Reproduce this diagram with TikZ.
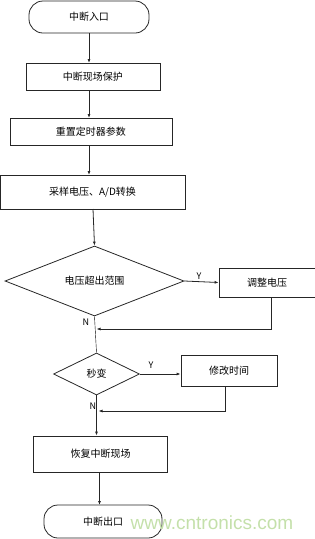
\documentclass[tikz,border=0pt]{standalone}
\usepackage{fontspec}
\setmainfont{Noto Sans CJK SC}
\newfontfamily\wmfont{Liberation Sans}
\usetikzlibrary{shapes.geometric,arrows.meta}
\definecolor{wmgreen}{RGB}{196,224,170}
\begin{document}
\begin{tikzpicture}[x=1pt,y=-1pt,
  every node/.style={font=\fontsize{10pt}{12pt}\selectfont},
  proc/.style={draw=black!85,line width=0.8pt,rectangle,inner sep=0pt},
  term/.style={draw=black!85,line width=0.8pt,rectangle,rounded corners=14pt,inner sep=0pt},
  dec/.style={draw=black!85,line width=0.8pt,diamond,inner sep=0pt},
  conn/.style={draw=black!85,line width=0.8pt,-{Latex[length=4pt,width=3pt]}},
  lbl/.style={font=\fontsize{9pt}{10pt}\selectfont}]
\useasboundingbox (0,0) rectangle (315,539);
\node[term,minimum width=120pt,minimum height=32pt] (start) at (89,17) {中断入口};
\node[proc,minimum width=134pt,minimum height=27pt] (b1) at (93,76.5) {中断现场保护};
\node[proc,minimum width=162pt,minimum height=27pt] (b2) at (91,131.5) {重置定时器参数};
\node[proc,minimum width=185pt,minimum height=34pt] (b3) at (92.5,192) {采样电压、A/D转换};
\node[dec,minimum width=179pt,minimum height=70pt,aspect=2.55] (d1) at (94.5,281) {电压超出范围};
\node[proc,minimum width=96pt,minimum height=29pt] (adj) at (267,282.5) {调整电压};
\node[dec,minimum width=86pt,minimum height=42pt,aspect=2.05] (d2) at (96.5,374) {秒变};
\node[proc,minimum width=96pt,minimum height=31pt] (mod) at (229,370.5) {修改时间};
\node[proc,minimum width=134pt,minimum height=36pt] (rest) at (100.5,454) {恢复中断现场};
\node[term,minimum width=118pt,minimum height=33pt] (stop) at (103,521.5) {中断出口};
\coordinate (m1) at (96.5,329);
\coordinate (m2) at (98.5,411);
\draw[conn] (89,33) -- (89,63);
\draw[conn] (89,90) -- (89,118);
\draw[conn] (89,145) -- (89,175);
\draw[conn] (93,209) -- (d1.north);
\draw[conn] (d1.east) -- (adj.west);
\draw[conn] (271,297) |- (m1);
\draw (d1.south) -- (d2.north);
\draw[conn] (d2.east) -- (d2.east -| mod.west);
\draw[conn] (225,386) |- (m2);
\draw[conn] (d2.south) -- (d2.south |- rest.north);
\draw[conn] (99.5,472) -- (99.5,505);
\node[lbl] (y1) at (199,276) {Y};
\node[lbl] (n1) at (86,322) {N};
\node[lbl] (y2) at (151,365) {Y};
\node[lbl] (n2) at (93,406) {N};
\node[font=\wmfont\fontsize{19pt}{20pt}\selectfont,text=wmgreen] (wm) at (212,523) {www.cntronics.com};
\end{tikzpicture}
\end{document}
